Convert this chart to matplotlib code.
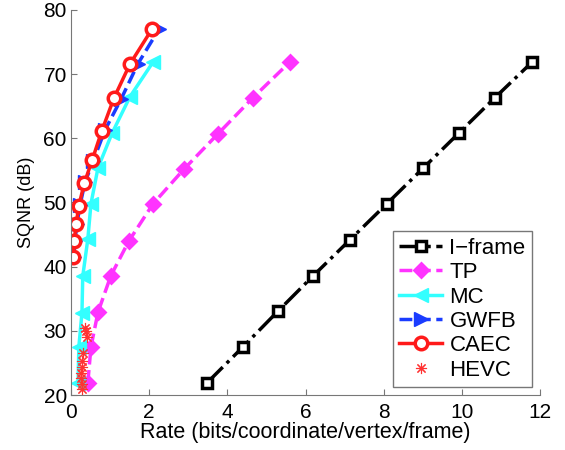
import matplotlib
matplotlib.use('Agg')
import matplotlib.pyplot as plt

plt.rcParams['font.family'] = ['Liberation Sans', 'DejaVu Sans']

# I-frame
ifr_x = [3.48, 4.4, 5.3, 6.2, 7.14, 8.08, 9.0, 9.92, 10.84, 11.8]
ifr_y = [21.9, 27.5, 33.1, 38.6, 44.2, 49.8, 55.3, 60.8, 66.3, 71.9]
# TP
tp_x = [0.43, 0.51, 0.69, 1.02, 1.48, 2.1, 2.89, 3.76, 4.65, 5.6]
tp_y = [21.9, 27.5, 32.9, 38.6, 44.0, 49.8, 55.2, 60.7, 66.3, 71.9]
# MC
mc_x = [0.18, 0.2, 0.28, 0.3, 0.43, 0.51, 0.69, 1.05, 1.51, 2.1]
mc_y = [21.9, 27.5, 32.8, 38.5, 44.3, 49.8, 55.4, 60.8, 66.5, 71.9]
# GWFB
gw_x = [0.07, 0.1, 0.15, 0.23, 0.36, 0.57, 0.87, 1.28, 1.71, 2.25]
gw_y = [41.5, 44.0, 46.6, 49.6, 53.2, 56.5, 61.3, 66.1, 71.6, 77.0]
# CAEC
ca_x = [0.05, 0.08, 0.13, 0.2, 0.34, 0.54, 0.79, 1.1, 1.51, 2.07]
ca_y = [41.5, 44.0, 46.6, 49.5, 53.0, 56.6, 61.2, 66.3, 71.6, 77.0]
# HEVC
hv_x = [0.36, 0.38, 0.40, 0.30, 0.28, 0.27, 0.26, 0.26, 0.28, 0.27]
hv_y = [30.4, 29.9, 29.1, 26.5, 25.3, 24.3, 23.4, 22.6, 21.7, 20.9]

fig = plt.figure(figsize=(5.65, 4.5), dpi=100)
ax = fig.add_axes([0.1257, 0.1222, 0.8301, 0.8556])

ax.plot(ifr_x, ifr_y, '-.', color='k', lw=2.5, marker='s', ms=6.5, mfc='white', mec='k', mew=2.5, label='I\u2212frame')
ax.plot(tp_x, tp_y, '--', color='#ff33ff', lw=2.5, marker='D', ms=7.5, mfc='#ff33ff', mec='#ff33ff', mew=2, label='TP')
ax.plot(mc_x, mc_y, '-', color='#33ffff', lw=2.5, marker='<', ms=10, mfc='#33ffff', mec='#33ffff', label='MC')
ax.plot(gw_x, gw_y, '--', color='#1a3cff', lw=2.5, marker='>', ms=10, mfc='#1a3cff', mec='#1a3cff', label='GWFB')
ax.plot(ca_x, ca_y, '-', color='#ff1a1a', lw=2.5, marker='o', ms=9, mfc='white', mec='#ff1a1a', mew=2.5, label='CAEC')
ax.plot(hv_x, hv_y, ls='none', color='#ff3333', marker=(8, 2, 0), ms=8, mew=0.8, label='HEVC')

ax.set_xlim(0, 12)
ax.set_ylim(20, 80)
ax.set_xticks(range(0, 13, 2))
ax.set_yticks(range(20, 81, 10))
ax.spines['top'].set_visible(False)
ax.spines['right'].set_visible(False)
for s in ['left', 'bottom']:
    ax.spines[s].set_color('#777777')
ax.tick_params(direction='in', length=4, color='#777777', labelsize=15)
ax.tick_params(axis='x', pad=6)
ax.tick_params(axis='y', pad=3)
ax.set_xlabel('Rate (bits/coordinate/vertex/frame)', fontsize=15.5, labelpad=0)
ax.set_ylabel('SQNR (dB)', fontsize=13, labelpad=6)

leg = ax.legend(loc='lower right', fontsize=16, fancybox=False, framealpha=1,
                edgecolor='#777777', handlelength=1.9, handletextpad=0.35,
                borderpad=0.3, labelspacing=0.15, borderaxespad=0.35)
leg.get_frame().set_linewidth(1)

fig.savefig('out.png', dpi=100)
